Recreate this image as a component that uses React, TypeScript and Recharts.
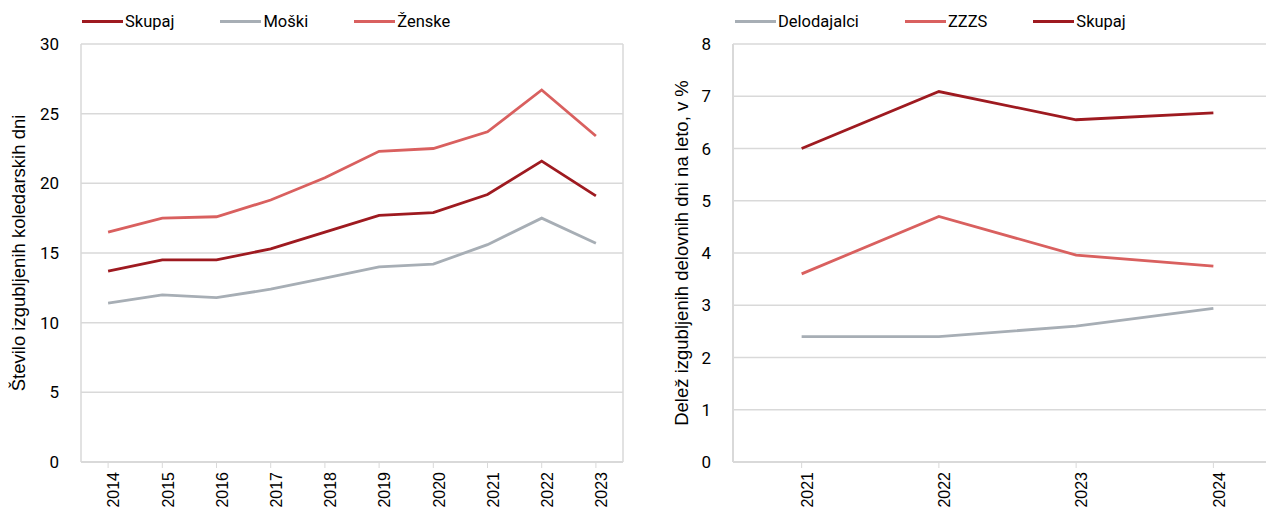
import React from 'react'
import { LineChart, Line, XAxis, YAxis, CartesianGrid } from 'recharts'

// left panel: lost calendar days per person
const years = ['2014', '2015', '2016', '2017', '2018', '2019', '2020', '2021', '2022', '2023']
const skupaj = [13.7, 14.5, 14.5, 15.3, 16.5, 17.7, 17.9, 19.2, 21.6, 19.1]
const moski = [11.4, 12.0, 11.8, 12.4, 13.2, 14.0, 14.2, 15.6, 17.5, 15.7]
const zenske = [16.5, 17.5, 17.6, 18.8, 20.4, 22.3, 22.5, 23.7, 26.7, 23.4]
const leftTicks = [0, 5, 10, 15, 20, 25, 30]

// right panel: share of lost working days, %
const years2 = ['2021', '2022', '2023', '2024']
const delodajalci = [2.4, 2.4, 2.6, 2.94]
const zzzs = [3.6, 4.7, 3.96, 3.75]
const skupaj2 = [6.0, 7.09, 6.55, 6.68]
const rightTicks = [0, 1, 2, 3, 4, 5, 6, 7, 8]

const DARK = '#9E1A20'
const GREY = '#A7AEB5'
const LIGHT = '#D9605F'
const GRID = '#D9D9D9'

const leftData = years.map((y, i) => ({ year: y, skupaj: skupaj[i], moski: moski[i], zenske: zenske[i] }))
const rightData = years2.map((y, i) => ({ year: y, delodajalci: delodajalci[i], zzzs: zzzs[i], skupaj: skupaj2[i] }))

const leftSeries = [
  { key: 'skupaj', name: 'Skupaj', color: DARK },
  { key: 'moski', name: 'Moški', color: GREY },
  { key: 'zenske', name: 'Ženske', color: LIGHT },
]
const rightSeries = [
  { key: 'delodajalci', name: 'Delodajalci', color: GREY },
  { key: 'zzzs', name: 'ZZZS', color: LIGHT },
  { key: 'skupaj', name: 'Skupaj', color: DARK },
]

const legendFont = 'Roboto, "Noto Sans", sans-serif'
const tickFont = '"Liberation Sans", Arial, sans-serif'

function LegendRow({ items, left }: { items: any[]; left: number }) {
  return (
    <div style={{ position: 'absolute', left, top: 12, display: 'flex', fontFamily: legendFont, fontSize: 16.5, color: '#000' }}>
      {items.map((s) => (
        <div key={s.key} style={{ display: 'flex', alignItems: 'center', marginRight: 46 }}>
          <span style={{ display: 'inline-block', width: 41, height: 3, background: s.color, marginRight: 2 }} />
          <span>{s.name}</span>
        </div>
      ))}
    </div>
  )
}

// rotated axis title drawn inside the y axis box
const axisTitle = (text: string, dx: number) => (props: any) => {
  const vb = props.viewBox
  const cx = vb.x + dx
  const cy = vb.y + vb.height / 2
  return (
    <text x={cx} y={cy} transform={`rotate(-90, ${cx}, ${cy})`} textAnchor="middle" dominantBaseline="central"
      style={{ fontFamily: tickFont, fontSize: 18.5, fill: '#000' }}>
      {text}
    </text>
  )
}

const xTick = { fontFamily: tickFont, fontSize: 16, fill: '#000' }
const yTick = { fontFamily: legendFont, fontSize: 17, fill: '#000' }

export default function App() {
  return (
    <div style={{ position: 'relative', margin: -8, width: 1274, height: 519, overflow: 'hidden', background: '#fff' }}>
      <div style={{ position: 'absolute', left: 0, top: 0 }}>
        <LineChart width={640} height={519} data={leftData} margin={{ top: 44, right: 17, left: 0, bottom: 0 }}>
          <CartesianGrid stroke={GRID} strokeWidth={1.5}
            verticalCoordinatesGenerator={({ offset }: any) => [offset.left, offset.left + offset.width]} />
          <XAxis dataKey="year" scale="band" height={57} interval={0} angle={-90} textAnchor="end"
            tick={xTick} tickSize={6} tickMargin={4} stroke={GRID} axisLine={{ stroke: GRID, strokeWidth: 2 }} />
          <YAxis domain={[0, 30]} ticks={leftTicks} width={81} tick={yTick} tickLine={false} axisLine={false} tickMargin={16}
            label={{ content: axisTitle('Število izgubljenih koledarskih dni', 18) }} />
          {leftSeries.map((s) => (
            <Line key={s.key} dataKey={s.key} name={s.name} stroke={s.color} strokeWidth={2.8} dot={false}
              type="linear" isAnimationActive={false} />
          ))}
        </LineChart>
        <LegendRow items={leftSeries} left={82} />
      </div>
      <div style={{ position: 'absolute', left: 640, top: 0 }}>
        <LineChart width={650} height={519} data={rightData} margin={{ top: 44, right: 8, left: 0, bottom: 0 }}>
          <CartesianGrid stroke={GRID} strokeWidth={1.5} vertical={false} />
          <XAxis dataKey="year" scale="band" height={57} interval={0} angle={-90} textAnchor="end"
            tick={xTick} tickSize={6} tickMargin={4} stroke={GRID} axisLine={{ stroke: GRID, strokeWidth: 2 }} />
          <YAxis domain={[0, 8]} ticks={rightTicks} width={93} tick={yTick} tickLine={false} tickMargin={16}
            axisLine={{ stroke: GRID, strokeWidth: 2 }}
            label={{ content: axisTitle('Delež izgubljenih delovnih dni na leto, v %', 41) }} />
          {rightSeries.map((s) => (
            <Line key={s.key} dataKey={s.key} name={s.name} stroke={s.color} strokeWidth={2.8} dot={false}
              type="linear" isAnimationActive={false} />
          ))}
        </LineChart>
        <LegendRow items={rightSeries} left={95} />
      </div>
    </div>
  )
}
